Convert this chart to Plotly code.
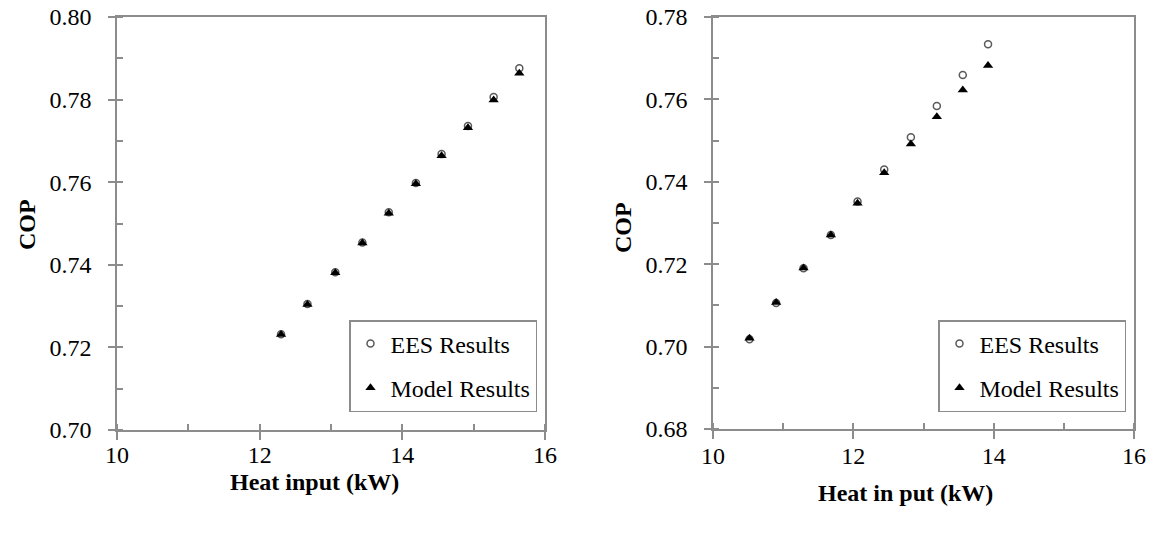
import plotly.graph_objects as go

# Heat input (kW) and COP for the two operating cases
heat_input_a = [12.30, 12.67, 13.06, 13.44, 13.81, 14.19, 14.55, 14.92, 15.28, 15.64]
cop_ees_a = [0.7232, 0.7305, 0.7382, 0.7454, 0.7527, 0.7598, 0.7668, 0.7736, 0.7806, 0.7876]
cop_model_a = [0.7231, 0.7304, 0.7381, 0.7453, 0.7525, 0.7596, 0.7664, 0.7732, 0.7799, 0.7864]

heat_input_b = [10.52, 10.90, 11.29, 11.68, 12.06, 12.44, 12.82, 13.19, 13.56, 13.92]
cop_ees_b = [0.7018, 0.7106, 0.7190, 0.7271, 0.7352, 0.7430, 0.7508, 0.7584, 0.7659, 0.7734]
cop_model_b = [0.7020, 0.7107, 0.7191, 0.7271, 0.7348, 0.7422, 0.7492, 0.7558, 0.7623, 0.7682]

W, H = 1162, 535
SERIF = "Liberation Serif"
AX = "#8c8c8c"

fig = go.Figure()

def add_series(x, ees, model, xa, ya, legend):
    fig.add_trace(go.Scatter(
        x=x, y=ees, mode="markers", name="EES Results",
        xaxis=xa, yaxis=ya, legend=legend, legendgroup=legend + "e",
        marker=dict(symbol="circle", size=7, color="white",
                    line=dict(color="#5a5a5a", width=1.5)),
    ))
    fig.add_trace(go.Scatter(
        x=x, y=model, mode="markers", name="Model Results",
        xaxis=xa, yaxis=ya, legend=legend, legendgroup=legend + "m",
        marker=dict(symbol="triangle-up", size=9, color="black",
                    line=dict(width=0)),
    ))

add_series(heat_input_a, cop_ees_a, cop_model_a, "x", "y", "legend")
add_series(heat_input_b, cop_ees_b, cop_model_b, "x2", "y2", "legend2")

def xaxis(domain, anchor, standoff):
    return dict(
        domain=domain, anchor=anchor, range=[10, 16], dtick=2, tick0=10,
        automargin=False,
        showline=True, linecolor=AX, linewidth=1.5, mirror=True,
        ticks="outside", ticklen=8, tickwidth=1.5, tickcolor=AX,
        minor=dict(dtick=1, ticks="inside", ticklen=6, tickwidth=1.5, tickcolor=AX, showgrid=False),
        showgrid=False, zeroline=False,
        tickfont=dict(family=SERIF, size=24, color="black"),
        ticklabelstandoff=standoff,
    )

def yaxis(domain, anchor, lo, hi):
    return dict(
        domain=domain, anchor=anchor, range=[lo, hi], dtick=0.02, tick0=lo,
        tickformat=".2f", automargin=False,
        showline=True, linecolor=AX, linewidth=1.5, mirror=True,
        ticks="outside", ticklen=7, tickwidth=1.5, tickcolor=AX,
        minor=dict(dtick=0.01, ticks="inside", ticklen=6, tickwidth=1.5, tickcolor=AX, showgrid=False),
        showgrid=False, zeroline=False,
        tickfont=dict(family=SERIF, size=24, color="black"),
        ticklabelstandoff=12,
    )

ydom = [1 - 430 / H, 1 - 17 / H]
ydom2 = [1 - 429 / H, 1 - 17 / H]

def legend_box(xr):
    return dict(
        x=xr / W, xanchor="right", y=1 - 412 / H, yanchor="bottom",
        bgcolor="white", bordercolor=AX, borderwidth=1.5,
        font=dict(family=SERIF, size=24, color="black"),
        traceorder="grouped", tracegroupgap=10,
        itemwidth=30,
    )

fig.update_layout(
    template="none",
    width=W, height=H,
    margin=dict(l=0, r=0, t=0, b=0, autoexpand=False),
    paper_bgcolor="white", plot_bgcolor="white",
    font=dict(family=SERIF, color="black"),
    showlegend=True,
    xaxis=xaxis([117 / W, 545 / W], "y", -6),
    yaxis=yaxis(ydom, "x", 0.70, 0.80),
    xaxis2=xaxis([713 / W, 1134 / W], "y2", -4),
    yaxis2=yaxis(ydom2, "x2", 0.68, 0.78),
    legend=legend_box(537),
    legend2=legend_box(1126),
)

title_font = dict(family=SERIF, size=24, color="black")
for text, x, y, angle in [
    ("<b>Heat input (kW)</b>", 314, 482, 0),
    ("<b>Heat in put (kW)</b>", 905, 493, 0),
    ("<b>COP</b>", 27, 225, -90),
    ("<b>COP</b>", 623, 228, -90),
]:
    fig.add_annotation(
        text=text, x=x / W, y=1 - y / H, xref="paper", yref="paper",
        xanchor="center", yanchor="middle", showarrow=False,
        textangle=angle, font=title_font,
    )

fig.write_html("out.html")
